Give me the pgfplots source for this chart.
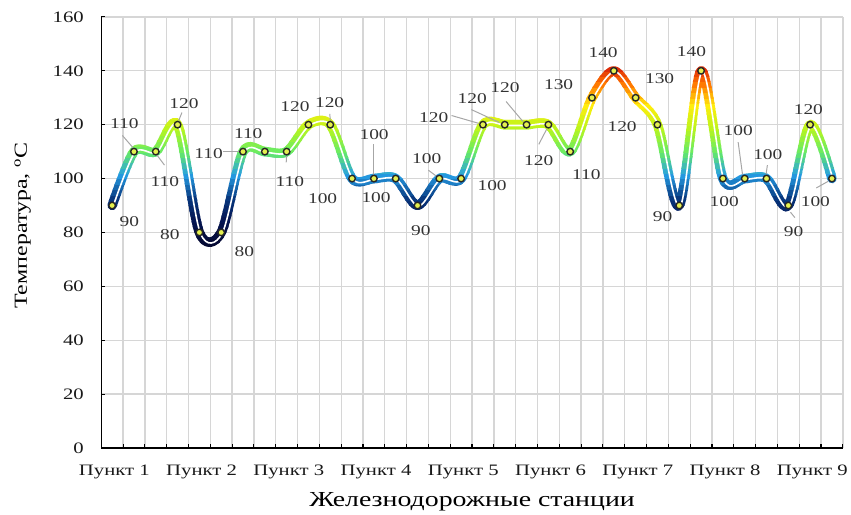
\documentclass[border=0pt]{standalone}
\usepackage{pgfplots}
\pgfplotsset{compat=1.18}
\usepackage{pgfplotstable}
\usepackage{fontspec}
\setmainfont{Liberation Serif}[FakeStretch=1.3]

% temperature at each measuring point
\pgfplotstableread{
i t
1 90
2 110
3 110
4 120
5 80
6 80
7 110
8 110
9 110
10 120
11 120
12 100
13 100
14 100
15 90
16 100
17 100
18 120
19 120
20 120
21 120
22 110
23 130
24 140
25 130
26 120
27 90
28 140
29 100
30 100
31 100
32 90
33 120
34 100
}\temps

\pgfplotsset{
  colormap={temp}{
    rgb=(0.02,0.04,0.20)
    rgb=(0.02,0.08,0.32)
    rgb=(0.03,0.22,0.50)
    rgb=(0.15,0.62,0.90)
    rgb=(0.40,0.92,0.40)
    rgb=(0.72,0.96,0.12)
    rgb=(1.00,0.93,0.05)
    rgb=(1.00,0.45,0.00)
    rgb=(0.80,0.02,0.05)
  },
  base/.style={scale only axis, width=745pt, xmin=0.5, xmax=34.5, anchor=south west},
}
\def\yu{2.70625}

\begin{document}
\begin{tikzpicture}
\begin{axis}[base, name=main, at={(0pt,0pt)},
  height=433pt, ymin=0, ymax=160,
  axis lines*=left,
  axis line style={black, line width=1.4pt},
  xtick={1.5,2.5,...,34.5}, xticklabels={},
  ytick={0,20,...,160},
  grid=major,
  major grid style={draw=black!16, line width=1.3pt},
  tick align=inside, major tick length=4pt,
  tick style={black, line width=1.1pt},
  extra x ticks={1.1,5.1,9.1,13.1,17.1,21.1,25.1,29.1,33.1},
  extra x tick labels={Пункт 1,Пункт 2,Пункт 3,Пункт 4,Пункт 5,Пункт 6,Пункт 7,Пункт 8,Пункт 9},
  extra x tick style={major tick length=0pt, grid=none},
  tick label style={font=\fontsize{16}{18}\selectfont, text=black!90},
  xticklabel style={yshift=-28pt, anchor=base},
  yticklabel style={xshift=-14pt},
  /pgf/number format/assume math mode=true,
  xlabel={Железнодорожные станции},
  xlabel style={font=\fontsize{21.5}{24}\selectfont, at={(axis description cs:0.5,-0.136)}, anchor=base},
  ylabel={Температура, \textsuperscript{o}С},
  ylabel style={font=\fontsize{18.5}{20}\selectfont, at={(axis description cs:-0.1003,0.516)}, anchor=base},
]
\end{axis}

% coloured tube: the same smooth curve, clipped to thin bands of temperature
\foreach \a in {72,74,...,144}{
  \pgfmathsetmacro{\lo}{\a-0.15}
  \pgfmathsetmacro{\hi}{\a+2.15}
  \pgfmathsetmacro{\cv}{max(0,min(1000,(\a+1-76)/68*1000))}
  \pgfmathsetlengthmacro{\hh}{2.3*\yu pt}
  \pgfmathsetlengthmacro{\yy}{\lo*\yu pt}
  \begin{axis}[base, hide axis, height=\hh, ymin=\lo, ymax=\hi, at={(0pt,\yy)}]
    \addplot[smooth, line width=9.5pt, line cap=round, line join=round,
      color of colormap={\cv of temp}] table[x=i,y=t]{\temps};
  \end{axis}
}

\begin{axis}[base, at={(0pt,0pt)}, height=433pt, ymin=0, ymax=160, hide axis, clip=false]
\addplot[smooth, white, line width=1.6pt, xshift=1pt, yshift=-0.8pt] table[x=i,y=t]{\temps};
\addplot[only marks, mark=*, mark size=3.3pt,
  mark options={fill={rgb,255:red,228;green,240;blue,80}, draw=black!85, line width=1.4pt}]
  table[x=i,y=t]{\temps};

\begin{scope}[gray!70, line width=1pt]
\draw (axis cs:1.47,116) -- (axis cs:1.95,111.5);
\draw (axis cs:3.0,109.3) -- (axis cs:3.4,105);
\draw (axis cs:4.2,124.5) -- (axis cs:4.05,121.5);
\draw (axis cs:6.1,110) -- (axis cs:6.85,110);
\draw (axis cs:8.98,106) -- (axis cs:9.0,108.5);
\draw (axis cs:10.98,124) -- (axis cs:11,121.5);
\draw (axis cs:13,112.7) -- (axis cs:13,101.5);
\draw (axis cs:15.5,103.1) -- (axis cs:15.86,100.9);
\draw (axis cs:16.56,123.4) -- (axis cs:17.8,120.5);
\draw (axis cs:17.47,125.6) -- (axis cs:18.75,120.8);
\draw (axis cs:19.06,128.6) -- (axis cs:19.83,121.2);
\draw (axis cs:20.56,112.7) -- (axis cs:20.92,118.3);
\draw (axis cs:29.7,113.5) -- (axis cs:29.9,101.5);
\draw (axis cs:31.04,105) -- (axis cs:30.98,101.5);
\draw (axis cs:32.1,87.5) -- (axis cs:32.3,85.5);
\draw (axis cs:33.28,96.5) -- (axis cs:33.83,99);
\end{scope}

\begin{scope}[every node/.style={font=\fontsize{15}{15}\selectfont, text=black!80, inner sep=0pt}]
\node at (axis cs:1.79,83.9) {90};
\node at (axis cs:1.56,120.5) {110};
\node at (axis cs:3.42,99.0) {110};
\node at (axis cs:4.29,127.9) {120};
\node at (axis cs:3.65,79.1) {80};
\node at (axis cs:7.06,72.8) {80};
\node at (axis cs:5.42,109.4) {110};
\node at (axis cs:7.24,116.8) {110};
\node at (axis cs:9.15,98.7) {110};
\node at (axis cs:9.38,126.8) {120};
\node at (axis cs:10.97,128.2) {120};
\node at (axis cs:10.65,92.4) {100};
\node at (axis cs:13.01,116.4) {100};
\node at (axis cs:13.1,92.8) {100};
\node at (axis cs:15.15,80.6) {90};
\node at (axis cs:15.42,107.5) {100};
\node at (axis cs:18.42,97.2) {100};
\node at (axis cs:15.74,122.7) {120};
\node at (axis cs:17.51,129.7) {120};
\node at (axis cs:19.01,133.8) {120};
\node at (axis cs:20.56,106.8) {120};
\node at (axis cs:22.74,101.3) {110};
\node at (axis cs:21.47,134.9) {130};
\node at (axis cs:23.51,146.7) {140};
\node at (axis cs:26.1,137.1) {130};
\node at (axis cs:24.38,119.4) {120};
\node at (axis cs:26.24,85.7) {90};
\node at (axis cs:27.56,147.1) {140};
\node at (axis cs:29.06,91.3) {100};
\node at (axis cs:29.7,117.9) {100};
\node at (axis cs:31.06,109.0) {100};
\node at (axis cs:32.24,80.2) {90};
\node at (axis cs:32.92,125.6) {120};
\node at (axis cs:33.24,91.3) {100};
\end{scope}
\end{axis}

% page margins as in the reference
\path (main.south west) ++(-101.7pt,-64pt);
\path (main.north east) ++(4pt,17pt);
\end{tikzpicture}
\end{document}
